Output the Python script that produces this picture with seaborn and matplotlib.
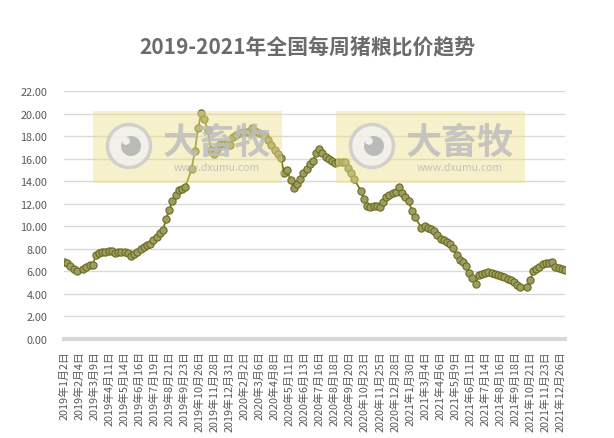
import matplotlib
matplotlib.use("Agg")
import matplotlib.pyplot as plt
import matplotlib.dates as mdates
from matplotlib.patches import Rectangle, Circle
import seaborn as sns
import pandas as pd
import numpy as np

# ---------------- data ----------------
start_date = "2019-01-02"
# weekly pig-grain price ratio (None = no data that week, holiday)
ratio = [
    6.85, 6.75, 6.5, 6.25, 6.0, None, 6.2, 6.4, 6.55, 6.6,
    7.45, 7.65, 7.7, 7.75, 7.85, 7.8, 7.65, 7.75, 7.75, 7.7,
    7.6, 7.4, 7.55, 7.7, 7.95, 8.2, 8.35, 8.45, 8.75, 9.1,
    9.45, 9.7, 10.65, 11.45, 12.3, 12.8, 13.2, 13.3, 13.5, None,
    15.1, 16.7, 18.7, 20.1, 19.5, 18.6, 16.8, 16.4, 16.9, 17.3,
    17.35, 17.3, 17.25, 17.9, 18.15, 18.3, 18.35, 18.35, 18.4, 18.7,
    18.45, 18.3, 18.2, 18.05, 17.7, 17.2, 16.8, 16.4, 16.05, 14.7,
    15.0, 14.1, 13.4, 13.75, 14.2, 14.7, 15.1, 15.5, 15.8, 16.5,
    16.9, 16.5, 16.2, 15.95, 15.8, 15.6, 15.75, 15.75, 15.7, 15.2,
    14.75, 14.2, None, 13.15, 12.45, 11.85, 11.7, 11.8, 11.85, 11.75,
    12.2, 12.6, 12.75, 12.95, 13.1, 13.5, 12.95, 12.65, 12.3, 11.4,
    10.8, None, 9.9, 10.05, 9.9, 9.75, 9.6, 9.25, 8.9, 8.75,
    8.6, 8.4, 8.05, 7.5, 7.05, 6.85, 6.5, 5.9, 5.4, 4.9,
    5.65, 5.8, 5.85, 5.92, 5.85, 5.78, 5.7, 5.6, 5.5, 5.35,
    5.2, 5.05, 4.8, 4.6, None, 4.6, 5.2, 6.0, 6.2, 6.4,
    6.65, 6.75, 6.78, 6.8, 6.4, 6.3, 6.22, 6.13,
]
y_ticks = [0, 2, 4, 6, 8, 10, 12, 14, 16, 18, 20, 22]
x_tick_step_days = 33
x_tick_last = "2021-12-26"
title = "2019-2021年全国每周猪粮比价趋势"
watermark_main = "大畜牧"
watermark_sub = "www.dxumu.com"

# ---------------- build frame ----------------
dates = pd.date_range(start_date, periods=len(ratio), freq="7D")
df = pd.DataFrame({"date": dates, "value": pd.to_numeric(pd.Series(ratio), errors="coerce")})
df = df.dropna()

# ---------------- style ----------------
sns.set_theme(style="white")
plt.rcParams["font.family"] = ["Noto Sans CJK SC", "DejaVu Sans"]

W, H = 614, 439
fig = plt.figure(figsize=(W / 100, H / 100), dpi=100)
L, R, T, B = 64, 565, 92.3, 340
ax = fig.add_axes([L / W, 1 - B / H, (R - L) / W, (B - T) / H])

line_col = "#7d7d12"
sns.lineplot(data=df, x="date", y="value", ax=ax, estimator=None, sort=True,
             color=line_col, linewidth=1.3, marker="o", markersize=5.2,
             markerfacecolor="#9c9c66", markeredgecolor="#6c6c1a",
             markeredgewidth=0.8, zorder=3)

ax.set_xlim(dates[0], dates[-1])
ax.set_ylim(0, 22)
ax.set_yticks(y_ticks)
ax.set_yticklabels([f"{v:.2f}" for v in y_ticks])
ax.yaxis.grid(True, color="#d9d9d9", linewidth=1.0)
ax.xaxis.grid(False)

tick_dates = pd.date_range(start_date, x_tick_last, freq=f"{x_tick_step_days}D")
ax.set_xticks(tick_dates)
ax.set_xticklabels([f"{d.year}年{d.month}月{d.day}日" for d in tick_dates],
                   rotation=90, va="top", ha="center")

ax.tick_params(axis="both", length=0, labelsize=7.8, colors="#595959")
ax.tick_params(axis="y", pad=12)
ax.tick_params(axis="x", pad=8)
ax.set_xlabel("")
ax.set_ylabel("")
for s in ["left", "right", "top"]:
    ax.spines[s].set_visible(False)
ax.spines["bottom"].set_color("#d9d9d9")
ax.spines["bottom"].set_linewidth(3)
ax.spines["bottom"].set_zorder(2)

fig.text(307 / W, 1 - 47 / H, title, ha="center", va="center",
         fontsize=15, fontweight="bold", color="#6b6b6b")

# ---------------- watermark overlay ----------------
def watermark(x0):
    rect = Rectangle(((x0) / W, 1 - 184 / H), 189 / W, 72 / H,
                     transform=fig.transFigure, facecolor="#ede08a",
                     alpha=0.45, edgecolor="none", zorder=10)
    fig.add_artist(rect)
    cx, cy = x0 + 36, 147
    ring = Circle((cx, H - cy), 21.5, transform=None, facecolor="#f2f2f2",
                  edgecolor="#c8c8c8", linewidth=2.5, alpha=0.8, zorder=11)
    eye = Circle((cx + 2, H - cy), 10, transform=None, facecolor="#b4b4b4",
                 edgecolor="none", alpha=0.9, zorder=12)
    hl = Circle((cx - 3, H - cy + 5), 3.8, transform=None, facecolor="#f4f4f4",
                edgecolor="none", alpha=0.95, zorder=13)
    for a in (ring, eye, hl):
        fig.add_artist(a)
    fig.text((x0 + 124) / W, 1 - 143 / H, watermark_main, ha="center", va="center",
             fontsize=26, fontweight="bold", color="#bdbdbd", alpha=0.85, zorder=12)
    fig.text((x0 + 124) / W, 1 - 168 / H, watermark_sub, ha="center", va="center",
             fontsize=7.5, color="#bdbdbd", alpha=0.9, zorder=12)

watermark(93)
watermark(336)

fig.savefig("out.png", dpi=100)
